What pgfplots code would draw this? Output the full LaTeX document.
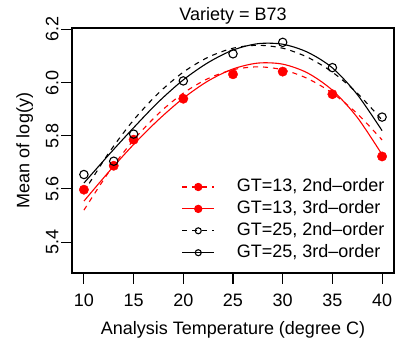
\documentclass[border=0pt]{standalone}
\usepackage{fontspec}
\setmainfont{Liberation Sans}
\usepackage{pgfplots}
\pgfplotsset{compat=1.18}
\newcommand{\ff}{\fontsize{18}{21.6}\selectfont}
\begin{document}
\ff
\begin{tikzpicture}
\path[use as bounding box] (-72pt,-66pt) rectangle (323pt,273pt);
\begin{axis}[
  at={(0,0)}, anchor=south west,
  scale only axis, width=322pt, height=245pt,
  xmin=8.8, xmax=41.2, ymin=5.2837, ymax=6.205,
  axis line style={line width=1.1pt},
  tick style={line width=1.1pt, black},
  tick align=outside, major tick length=10.8pt,
  xtick pos=bottom, ytick pos=left,
  xtick={10,15,20,25,30,35,40},
  xticklabels={10,15,20,25,30,35,40},
  ytick={5.4,5.6,5.8,6.0,6.2},
  yticklabels={5.4,5.6,5.8,6.0,6.2},
  every tick label/.append style={font=\ff},
  xticklabel style={anchor=base, inner sep=0pt, yshift=-22.7pt},
  yticklabel style={xshift=-2.5pt, rotate=90, anchor=south, inner sep=0pt},
  title={Variety = B73},
  xlabel={Analysis Temperature (degree C)},
  ylabel={Mean of log(y)},
  every axis title/.style={at={(axis description cs:0.5,1)}, anchor=base, yshift=7.3pt, inner sep=0pt, font=\ff},
  every axis x label/.style={at={(axis description cs:0.5,0)}, anchor=base, yshift=-61.7pt, inner sep=0pt, font=\ff},
  every axis y label/.style={at={(axis description cs:0,0.5)}, xshift=-42.5pt, rotate=90, anchor=base, inner sep=0pt, font=\ff},
  legend image code/.code={\draw[mark repeat=2,mark phase=2,#1] plot coordinates {(0pt,0pt) (16pt,0pt) (32pt,0pt)};},
  legend cell align=left,
  legend style={at={(axis description cs:0.3407,0.3857)}, anchor=north west, draw=none, fill=none,
    inner sep=0pt, outer sep=0pt, row sep=4.9pt, column sep=22pt,
    nodes={inner sep=0pt, text height=13pt, text depth=4pt}, font=\ff},
]
% legend images
\addlegendimage{red, line width=1.1pt, dash pattern=on 5pt off 5pt, mark=*, mark options={solid, mark size=3.6pt}}
\addlegendentry{GT=13, 2nd\textendash order}
\addlegendimage{red, line width=1.1pt, mark=*, mark options={solid, mark size=3.6pt}}
\addlegendentry{GT=13, 3rd\textendash order}
\addlegendimage{black, line width=1.1pt, dash pattern=on 5pt off 5pt, mark=o, mark options={solid, mark size=3pt}}
\addlegendentry{GT=25, 2nd\textendash order}
\addlegendimage{black, line width=1.1pt, mark=o, mark options={solid, mark size=3pt}}
\addlegendentry{GT=25, 3rd\textendash order}
% curves
\addplot[forget plot, red, line width=1.1pt, dash pattern=on 5pt off 5pt, smooth] coordinates {
(10,5.520) (12.5,5.663) (15,5.784) (17.5,5.883) (20,5.960) (22.5,6.015) (25,6.048) (27.5,6.059) (30,6.048) (32.5,6.015) (35,5.960) (37.5,5.883) (40,5.784)};
\addplot[forget plot, red, line width=1.1pt, smooth] coordinates {
(10,5.554) (12.5,5.664) (15,5.767) (17.5,5.860) (20,5.941) (22.5,6.006) (25,6.051) (27.5,6.073) (30,6.069) (32.5,6.036) (35,5.971) (37.5,5.869) (40,5.729)};
\addplot[forget plot, black, line width=1.1pt, dash pattern=on 5pt off 5pt, smooth] coordinates {
(10,5.589) (12.5,5.735) (15,5.859) (17.5,5.960) (20,6.039) (22.5,6.095) (25,6.129) (27.5,6.140) (30,6.129) (32.5,6.095) (35,6.039) (37.5,5.960) (40,5.859)};
\addplot[forget plot, black, line width=1.1pt, smooth] coordinates {
(10,5.622) (12.5,5.728) (15,5.830) (17.5,5.927) (20,6.010) (22.5,6.075) (25,6.122) (27.5,6.146) (30,6.144) (32.5,6.114) (35,6.055) (37.5,5.955) (40,5.819)};
% points
\addplot[forget plot, only marks, mark=*, red, mark size=4.7pt] coordinates {
(10,5.597) (13,5.687) (15,5.785) (20,5.939) (25,6.031) (30,6.041) (35,5.956) (40,5.722)};
\addplot[forget plot, only marks, mark=o, black, line width=1.1pt, mark size=4.2pt] coordinates {
(10,5.654) (13,5.704) (15,5.806) (20,6.006) (25,6.108) (30,6.151) (35,6.056) (40,5.870)};
\end{axis}
\end{tikzpicture}
\end{document}
